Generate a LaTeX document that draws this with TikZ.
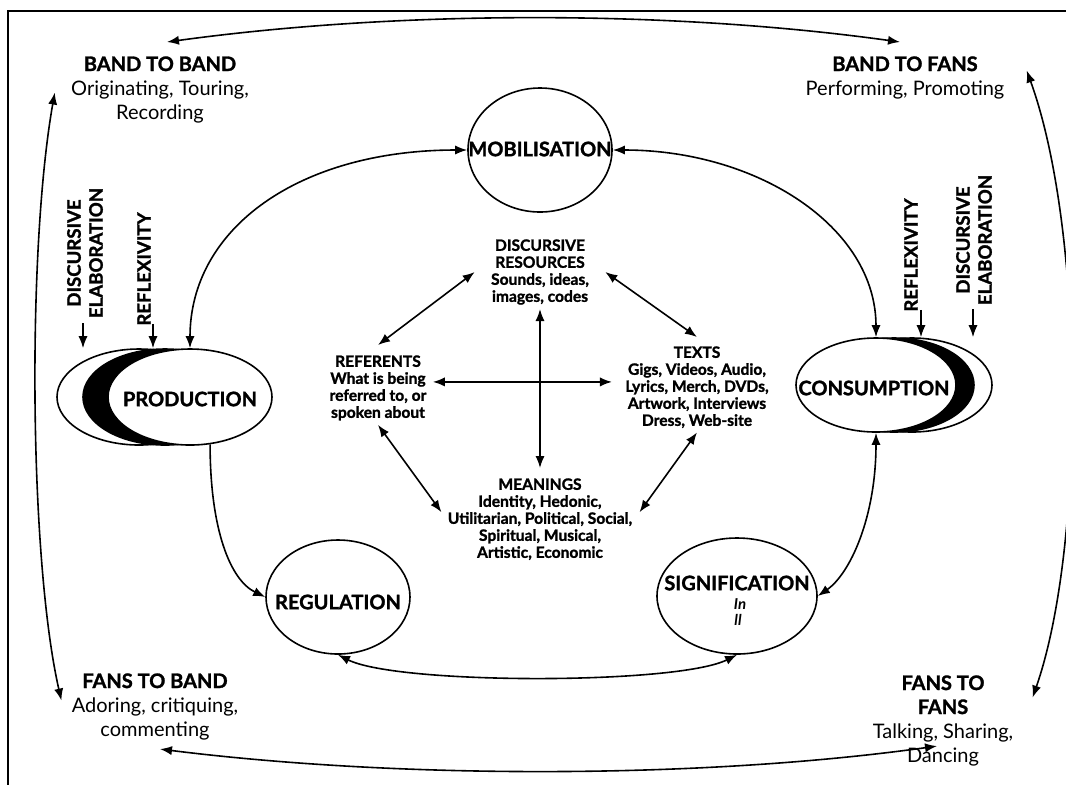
\documentclass[tikz,border=0pt]{standalone}
\usepackage{fontspec}
\setmainfont{Lato}[BoldFeatures={FakeBold=1.4}]
\usetikzlibrary{arrows.meta,shapes.geometric}
\tikzset{
	onehead/.style={-{Latex[length=6pt,width=4.6pt]}, line width=0.8pt},
	twohead/.style={{Latex[length=6pt,width=4.6pt]}-{Latex[length=6pt,width=4.6pt]}, line width=0.8pt},
	phase/.style={ellipse, draw, line width=0.8pt, fill=white, inner sep=0pt},
	phaselabel/.style={inner sep=0pt, font=\fontsize{10}{12}\selectfont\bfseries},
	sidelabel/.style={inner sep=0pt, anchor=north, align=center, font=\fontsize{10}{12}\selectfont},
	corelabel/.style={inner sep=0pt, anchor=north, align=center, font=\fontsize{7.8}{8.5}\selectfont\bfseries},
	vertlabel/.style={inner sep=0pt, rotate=90, align=center, font=\fontsize{9.3}{11}\selectfont\bfseries}
}

\begin{document}
\begin{tikzpicture}[x=0.5pt, y=-0.5pt]
			%%%%% START %%%%%
			\useasboundingbox (0,0) rectangle (1066,784);
			
			\draw[line width=1.2pt] (1080,11) -- (8,11) -- (8,800);
			
			\node[sidelabel] (bb) at (160,56) {\textbf{BAND TO BAND}\\Originating, Touring,\\Recording};
			\node[sidelabel] (bf) at (905,56) {\textbf{BAND TO FANS}\\Performing, Promoting};
			\node[sidelabel] (fb) at (155,673) {\textbf{FANS TO BAND}\\Adoring, critiquing,\\commenting};
			\node[sidelabel] (ff) at (943,675) {\textbf{FANS TO}\\\textbf{FANS}\\Talking, Sharing,\\Dancing};
			
			\draw[twohead] ([xshift=3.5pt,yshift=7pt]bb.north) .. controls +(233,-32) and +(-230,-32) .. ([xshift=-2.5pt,yshift=7pt]bf.north);
			\draw[twohead] ([xshift=-8pt,yshift=-1.5pt]bb.west) .. controls +(-28,158) and +(-32,-140) .. ([xshift=-5pt,yshift=3pt]fb.west);
			\draw[twohead] ([xshift=11pt,yshift=3.5pt]bf.east) .. controls +(58,160) and +(53,-152) .. ([xshift=9.5pt,yshift=11.5pt]ff.east);
			\draw[twohead] ([xshift=2.5pt,yshift=-4.5pt]fb.south) .. controls +(240,30) and +(-237,33) .. ([xshift=-3pt,yshift=10pt]ff.south);
			
			\node[phase, minimum width=72pt, minimum height=62pt] (mob) at (540,150) {};
			\node[phaselabel] at (540,149) {MOBILISATION};
			
			\node[phase, minimum width=82pt, minimum height=48pt] (prodback) at (139,397) {};
			\node[phase, fill=black, minimum width=82pt, minimum height=48pt] (prodmid) at (165,397) {};
			\node[phase, minimum width=82pt, minimum height=48pt] (prod) at (190,397) {};
			\node[phaselabel] at (190,399) {PRODUCTION};
			
			\node[phase, minimum width=80pt, minimum height=47pt] (consback) at (912,385) {};
			\node[phase, fill=black, minimum width=80pt, minimum height=47pt] (consmid) at (894,385) {};
			\node[phase, minimum width=80pt, minimum height=47pt] (cons) at (876,385) {};
			\node[phaselabel] at (874,388) {CONSUMPTION};
			
			\node[phase, minimum width=72pt, minimum height=57pt] (reg) at (338,597) {};
			\node[phaselabel] at (338,602) {REGULATION};
			
			\node[phase, minimum width=80pt, minimum height=58pt] (sig) at (737,596) {};
			\node[phaselabel] at (737,583) {SIGNIFICATION};
			\node[inner sep=0pt, font=\fontsize{7.5}{8}\selectfont\bfseries\itshape] (sigin) at (740,604) {In};
			\node[inner sep=0pt, font=\fontsize{7.5}{8}\selectfont\bfseries\itshape] (sigll) at (738,620) {ll};
			
			\draw[twohead] (mob.west) .. controls +(-168,0) and +(0,-120) .. (prod.north);
			\draw[twohead] (mob.east) .. controls +(145,0) and +(0,-110) .. (cons.north);
			\draw[onehead] (prod.-67) .. controls +(0,85) and +(-35,-17) .. (reg.west);
			\draw[twohead] (cons.south) .. controls +(0,85) and +(32,-22) .. (sig.east);
			\draw[twohead] (reg.south) .. controls +(60,30) and +(-60,30) .. (sig.south);
			
			\node[vertlabel] (deprod) at (85,253) {DISCURSIVE\\ELABORATION};
			\node[vertlabel] (reprod) at (144,269) {REFLEXIVITY};
			\node[vertlabel] (recons) at (911,255) {REFLEXIVITY};
			\node[vertlabel] (decons) at (974,240) {DISCURSIVE\\ELABORATION};
			
			\draw[onehead] ([xshift=-1pt,yshift=-2.5pt]deprod.west) -- ([xshift=-1pt]deprod.west |- prodback.north);
			\draw[onehead] ([xshift=4.5pt,yshift=1pt]reprod.west) -- ([xshift=4.5pt]reprod.west |- prod.north);
			\draw[onehead] ([xshift=5pt,yshift=1pt]recons.west) -- ([xshift=5pt]recons.west |- cons.north);
			\draw[onehead] ([xshift=-0.5pt,yshift=-2pt]decons.west) -- ([xshift=-0.5pt]decons.west |- consback.north);
			
			\node[corelabel] (dr) at (540,239) {DISCURSIVE\\RESOURCES\\Sounds, ideas,\\images, codes};
			\node[corelabel] (ref) at (378,355) {REFERENTS\\What is being\\referred to, or\\spoken about};
			\node[corelabel] (txt) at (697,346) {TEXTS\\Gigs, Videos, Audio,\\Lyrics, Merch, DVDs,\\Artwork, Interviews\\Dress, Web-site};
			\node[corelabel] (mean) at (540,478) {MEANINGS\\Identity, Hedonic,\\Utilitarian, Political, Social,\\Spiritual, Musical,\\Artistic, Economic};
			
			\draw[twohead] ([xshift=-8pt]dr.west) -- ([yshift=5pt]ref.north);
			\draw[twohead] ([xshift=8pt]dr.east) -- ([yshift=4.5pt]txt.north);
			\draw[twohead] ([yshift=-2pt]dr.south) -- ([yshift=5pt]mean.north);
			\draw[twohead] ([xshift=3pt,yshift=3pt]ref.east) -- ([xshift=-6.5pt,yshift=3pt]ref.east -| txt.west);
			\draw[twohead] ([yshift=-2pt]ref.south) -- ([xshift=-3pt,yshift=3.5pt]mean.west);
			\draw[twohead] ([yshift=-2pt]txt.south) -- ([xshift=3.5pt,yshift=3.5pt]mean.east);
			
			%%%%% END %%%%%
\end{tikzpicture}
\end{document}
